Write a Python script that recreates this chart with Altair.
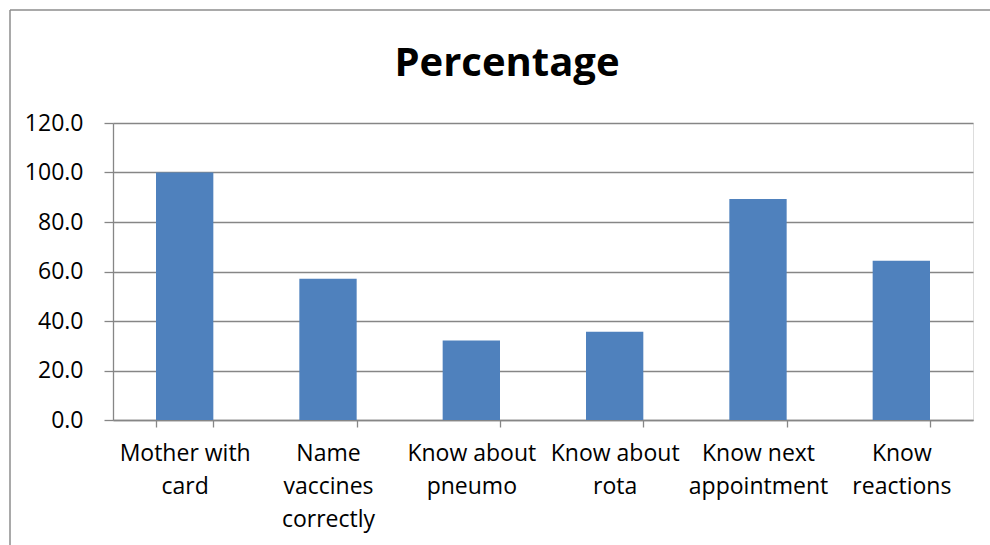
import altair as alt
import pandas as pd

categories = ["Mother with card", "Name vaccines correctly", "Know about pneumo",
              "Know about rota", "Know next appointment", "Know reactions"]
label_lines = [["Mother with", "card"], ["Name", "vaccines", "correctly"],
               ["Know about", "pneumo"], ["Know about", "rota"],
               ["Know next", "appointment"], ["Know", "reactions"]]
percentages = [100.0, 57.1, 32.1, 35.7, 89.3, 64.3]
y_ticks = [0, 20, 40, 60, 80, 100, 120]
chart_title = ["Percentage"]

df = pd.DataFrame({"category": categories, "pct": percentages})
title_df = pd.DataFrame({"t": chart_title})

expr = "''"
for cat, lines in reversed(list(zip(categories, label_lines))):
    arr = "[" + ",".join("'" + l + "'" for l in lines) + "]"
    expr = f"datum.value == '{cat}' ? {arr} : ({expr})"

FONT = "Open Sans"
GRID = "#868686"

bars = alt.Chart(df).mark_bar(color="#4f81bd").encode(
    x=alt.X("category:N", sort=categories,
            scale=alt.Scale(paddingInner=0.6, paddingOuter=0.3),
            axis=alt.Axis(title=None, labelAngle=0, labelExpr=expr,
                          labelFont=FONT, labelFontSize=23, labelColor="#000000",
                          labelLineHeight=33, labelPadding=15, labelBaseline="top",
                          tickBand="extent", tickSize=7, tickColor=GRID,
                          domainColor=GRID, domainWidth=1.3, tickWidth=1.3,
                          grid=False, labelLimit=300)),
    y=alt.Y("pct:Q", scale=alt.Scale(domain=[0, 120], nice=False),
            axis=alt.Axis(title=None, values=y_ticks, format=".1f",
                          labelFont=FONT, labelFontSize=23, labelColor="#000000",
                          labelPadding=21, tickSize=9, tickColor=GRID, tickWidth=1.3,
                          domainColor=GRID, domainWidth=1.3,
                          grid=True, gridColor=GRID, gridWidth=1.3)),
)

title_mark = alt.Chart(title_df).mark_text(
    font=FONT, fontSize=40, fontWeight="bold", color="#000000",
    align="center", baseline="alphabetic").encode(
    text="t:N", x=alt.value(394), y=alt.value(-47))

frame_left = alt.Chart(title_df).mark_rule(color="#8c8c8c", strokeWidth=1.5, clip=False).encode(
    x=alt.value(-103), y=alt.value(-113), y2=alt.value(430))
frame_top = alt.Chart(title_df).mark_rule(color="#8c8c8c", strokeWidth=1.5, clip=False).encode(
    x=alt.value(-103), x2=alt.value(880), y=alt.value(-113))

chart = alt.layer(frame_left, frame_top, bars, title_mark).properties(
    width=860, height=297,
    autosize=alt.AutoSizeParams(type="none"),
    padding={"left": 113, "top": 123, "right": 17, "bottom": 125},
).configure_view(stroke=None).configure(background="white")

chart.save("out.html", embed_options={"renderer": "svg", "actions": False})
